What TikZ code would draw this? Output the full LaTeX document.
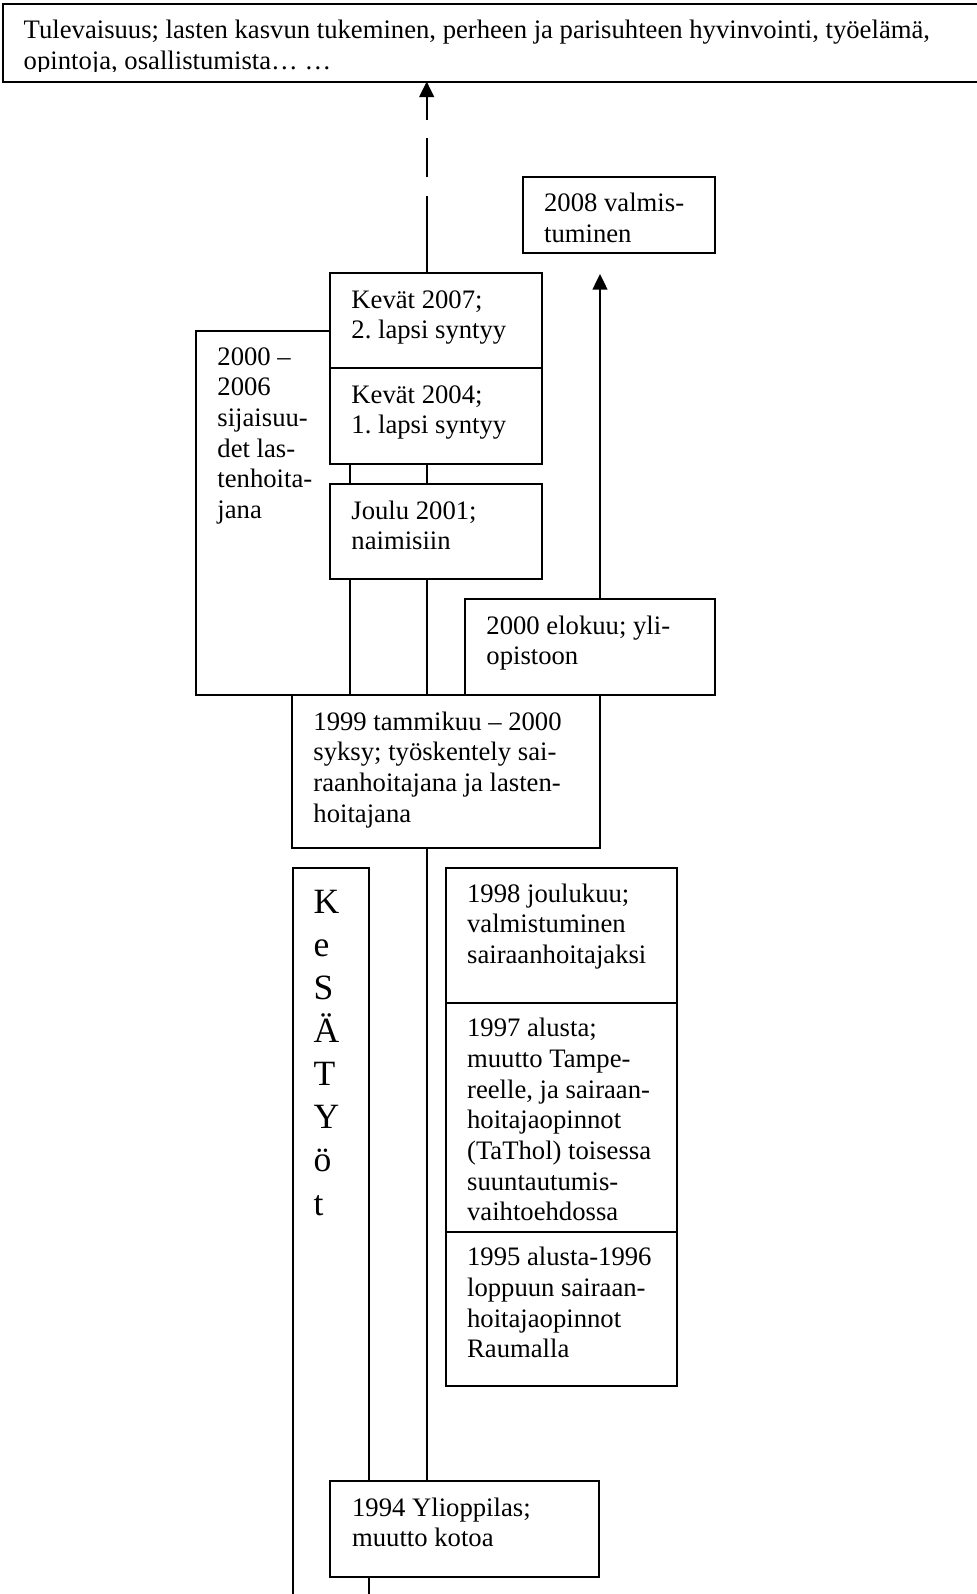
\documentclass[tikz,border=0pt]{standalone}
\usepackage{fontspec}
\setmainfont{Liberation Serif}
\usetikzlibrary{arrows.meta}

\protected\def\evfont{\fontsize{12pt}{13.8pt}\selectfont\frenchspacing}

\tikzset{
  evbox/.style 2 args={draw, fill=white, line width=0.9pt, anchor=north west,
    inner sep=0pt, outer sep=0pt, minimum width=#1*0.45pt, minimum height=#2*0.45pt},
  evtext/.style={anchor=base west, inner sep=0pt, align=flush left, text width=150pt,
    font=\evfont},
  link/.style={line width=0.9pt},
  uparrow/.style={line width=0.9pt, -{Triangle[length=7pt,width=6.6pt]}}
}

\begin{document}
\begin{tikzpicture}[x=0.45pt, y=-0.45pt]
  \useasboundingbox (0,0) rectangle (976,1594);
  \coordinate (spine) at (426.7,0);
  \coordinate (side) at (600,0);

  % future, text cut at the bottom
  \node[evbox={990}{77.5}] (future) at (3.3,4) {};
  \begin{scope}
    \clip (0,0) rectangle (976,71);
    \node[evtext, text width=440pt] (future-t) at ([shift={(20,34.5)}]future.north west)
      {Tulevaisuus; lasten kasvun tukeminen, perheen ja parisuhteen hyvinvointi, työelämä,\\
       opintoja, osallistumista… …};
  \end{scope}

  \node[evbox={192.3}{76}] (y08) at (522.7,177.3) {};
  \node[evtext] (y08-t) at ([shift={(21,34.5)}]y08.north west) {2008 valmis-\\tuminen};

  % 2000-2006 first, the boxes on the spine cover it
  \node[evbox={153.6}{364.3}] (sij) at (196,330.7) {};
  \node[evtext] (sij-t) at ([shift={(21,34.5)}]sij.north west)
    {2000 –\\2006\\sijaisuu-\\det las-\\tenhoita-\\jana};

  \node[evbox={212}{95.3}] (k07) at (330,273) {};
  \node[evtext] (k07-t) at ([shift={(21,35)}]k07.north west) {Kevät 2007;\\2. lapsi syntyy};

  \node[evbox={212}{95.7}] (k04) at (330,368.3) {};
  \node[evtext] (k04-t) at ([shift={(21,35)}]k04.north west) {Kevät 2004;\\1. lapsi syntyy};

  \node[evbox={212}{95.3}] (j01) at (330,484) {};
  \node[evtext] (j01-t) at ([shift={(21,35)}]j01.north west) {Joulu 2001;\\naimisiin};

  \node[evbox={249.6}{95.7}] (y00) at (465,599.3) {};
  \node[evtext] (y00-t) at ([shift={(21,35)}]y00.north west) {2000 elokuu; yli-\\opistoon};

  \node[evbox={307.5}{153.3}] (y99) at (292,695) {};
  \node[evtext] (y99-t) at ([shift={(21,35)}]y99.north west)
    {1999 tammikuu – 2000\\syksy; työskentely sai-\\raanhoitajana ja lasten-\\hoitajana};

  % kesatyot, runs off the bottom
  \node[evbox={76.5}{760}] (kesa) at (292.5,868.3) {};
  \node[evtext, font=\fontsize{16pt}{19.4pt}\selectfont] (kesa-t)
    at ([shift={(20.6,45)}]kesa.north west) {K\\e\\S\\Ä\\T\\Y\\ö\\t};

  \node[evbox={231}{134.4}] (y98) at (445.7,868.3) {};
  \node[evtext] (y98-t) at ([shift={(21,34)}]y98.north west)
    {1998 joulukuu;\\valmistuminen\\sairaanhoitajaksi};

  \node[evbox={231}{229.1}] (y97) at (445.7,1002.7) {};
  \node[evtext] (y97-t) at ([shift={(21,34)}]y97.north west)
    {1997 alusta;\\muutto Tampe-\\reelle, ja sairaan-\\hoitajaopinnot\\(TaThol) toisessa\\suuntautumis-\\vaihtoehdossa};

  \node[evbox={231}{153.8}] (y95) at (445.7,1231.8) {};
  \node[evtext] (y95-t) at ([shift={(21,34)}]y95.north west)
    {1995 alusta-1996\\loppuun sairaan-\\hoitajaopinnot\\Raumalla};

  \node[evbox={269.3}{95.6}] (y94) at (330,1481) {};
  \node[evtext] (y94-t) at ([shift={(21.7,35)}]y94.north west) {1994 Ylioppilas;\\muutto kotoa};

  % spine
  \foreach \lo/\hi in {y94/y99, y99/j01, j01/k04}
    \draw[link] (\lo.north -| spine) -- (\hi.south -| spine);

  \draw[uparrow, dash pattern=on 34.65pt off 8.4pt on 17.55pt off 8.2pt on 40pt]
    (k07.north -| spine) -- (future.south -| spine);
  \draw[uparrow, shorten >=9.3pt] (y00.north -| side) -- (y08.south -| side);
\end{tikzpicture}
\end{document}
